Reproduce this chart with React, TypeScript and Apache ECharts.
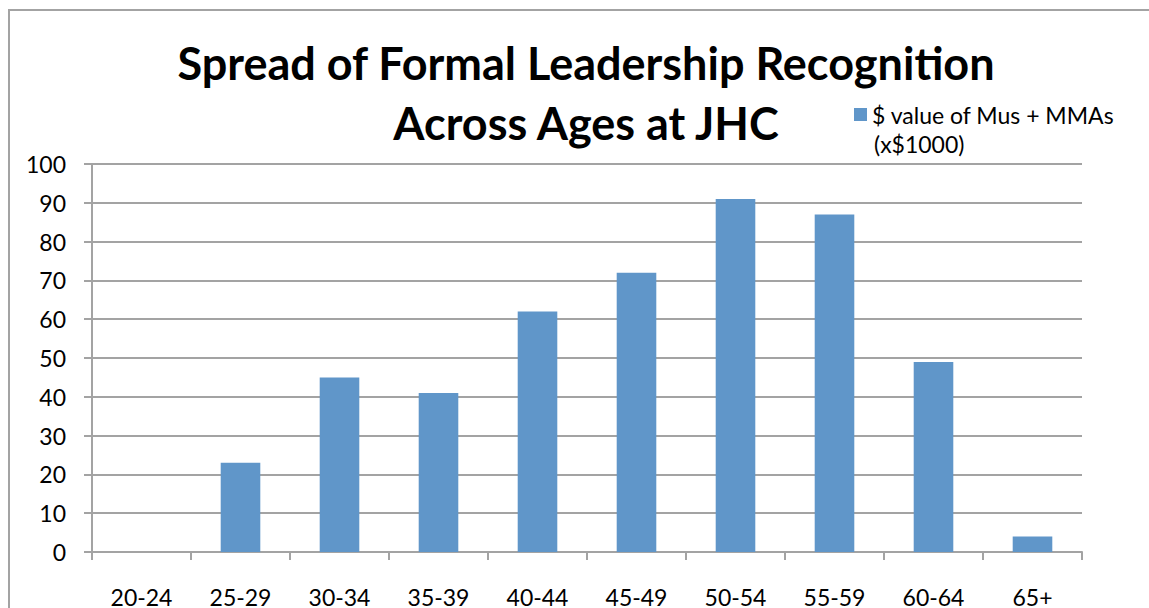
import React, { useEffect, useRef } from "react";
import * as echarts from "echarts";

const categories = ["20-24", "25-29", "30-34", "35-39", "40-44", "45-49", "50-54", "55-59", "60-64", "65+"];
const values = [0, 23, 45, 41, 62, 72, 91, 87, 49, 4];
const seriesName = "$ value of Mus + MMAs";
const seriesNameLine2 = "(x$1000)";
const titleText = "Spread of Formal Leadership Recognition\nAcross Ages at JHC";

const FONT = "Lato, 'Open Sans', sans-serif";
const GRAY = "#a3a3a3";

export default function App() {
  const ref = useRef<HTMLDivElement>(null);
  useEffect(() => {
    if (!ref.current) return;
    const chart = echarts.init(ref.current, null, { renderer: "svg" });
    chart.setOption({
      animation: false,
      backgroundColor: "#ffffff",
      textStyle: { fontFamily: FONT },
      title: {
        text: titleText,
        left: 581,
        textAlign: "center",
        top: 28,
        textStyle: { fontFamily: FONT, fontSize: 45, fontWeight: "bold", color: "#000", lineHeight: 60 },
      },
      legend: {
        left: 849,
        top: 98,
        itemWidth: 13,
        itemHeight: 13,
        icon: "rect",
        itemGap: 9,
        textStyle: { fontFamily: FONT, fontSize: 23, color: "#000" },
        data: [seriesName],
      },
      graphic: [
        {
          type: "rect",
          shape: { x: 9, y: 10, width: 1200, height: 700 },
          style: { fill: "none", stroke: GRAY, lineWidth: 2 },
          silent: true,
        },
        {
          type: "text",
          left: 874,
          top: 132,
          style: { text: seriesNameLine2, font: `23px ${FONT}`, fill: "#000" },
        },
      ],
      grid: { left: 92, top: 164, right: 67, bottom: 54, containLabel: false },
      xAxis: {
        type: "category",
        data: categories,
        boundaryGap: true,
        axisLine: { show: true, lineStyle: { color: GRAY, width: 2 } },
        axisTick: { show: true, length: 8, lineStyle: { color: GRAY, width: 2 } },
        axisLabel: { color: "#000", fontSize: 23, fontFamily: FONT, margin: 33 },
      },
      yAxis: {
        type: "value",
        min: 0,
        max: 100,
        interval: 10,
        axisLine: { show: true, lineStyle: { color: GRAY, width: 2 } },
        axisTick: { show: true, length: 8, lineStyle: { color: GRAY, width: 2 } },
        splitLine: { show: true, lineStyle: { color: GRAY, width: 2 } },
        axisLabel: { color: "#000", fontSize: 23, fontFamily: FONT, margin: 26 },
      },
      series: [
        {
          name: seriesName,
          type: "bar",
          data: values,
          barCategoryGap: "60%",
          itemStyle: { color: "#6096c9" },
        },
      ],
    });
    return () => chart.dispose();
  }, []);
  return <div ref={ref} style={{ position: "fixed", left: 0, top: 0, width: 1149, height: 608 }} />;
}
